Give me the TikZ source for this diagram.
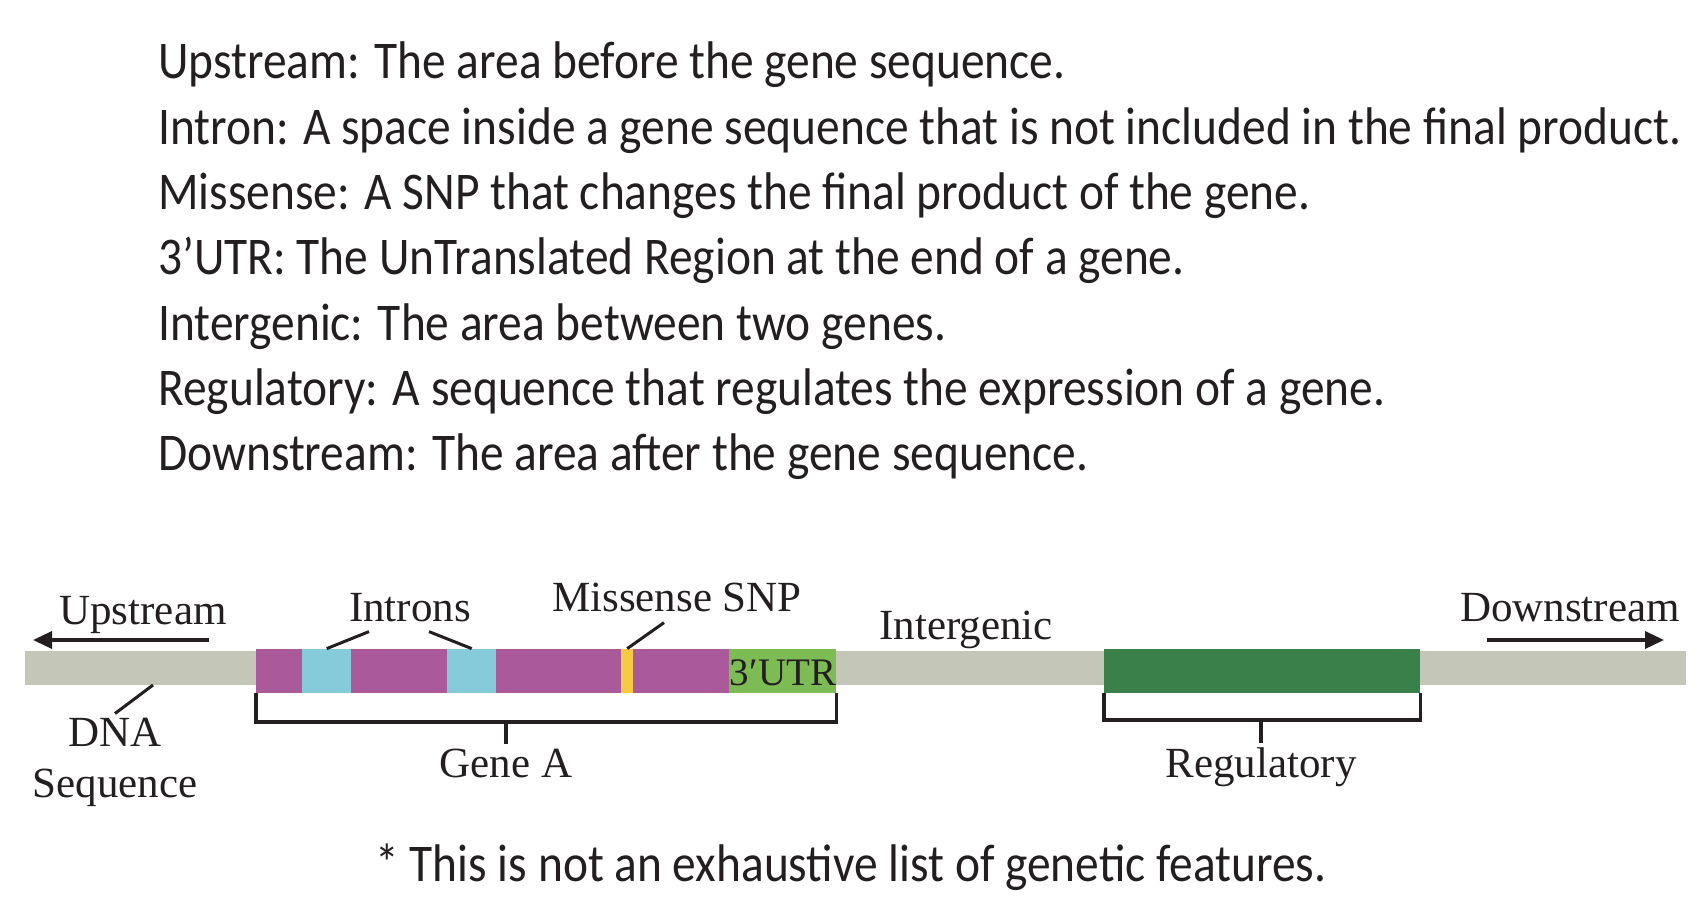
\documentclass[tikz,border=0pt]{standalone}
\usepackage{fontspec}
\setmainfont{Liberation Serif}
\newfontfamily\deffont[FakeStretch=0.895]{Carlito}
\usetikzlibrary{arrows.meta,positioning,calc}
\definecolor{dnagray}{HTML}{C4C6B8}
\definecolor{genepurple}{HTML}{AA5A9A}
\definecolor{introncyan}{HTML}{85CBDA}
\definecolor{snpyellow}{HTML}{F5CB45}
\definecolor{utrgreen}{HTML}{7DBB55}
\definecolor{reggreen}{HTML}{3A804A}
\definecolor{inkblack}{HTML}{231F20}
\tikzset{
  dnabar/.style={fill=dnagray, inner sep=0pt, minimum height=34pt, anchor=north west},
  seg/.style={inner sep=0pt, minimum height=44pt, anchor=south west},
  lbl/.style={font=\fontsize{43}{51}\selectfont, text=inkblack, inner sep=0pt},
  deftext/.style={font=\deffont\fontsize{53}{65}\selectfont, text=inkblack, inner sep=0pt, anchor=base west},
  leader/.style={line width=3pt, draw=inkblack},
  bracket/.style={line width=3.5pt, draw=inkblack},
  strandarrow/.style={-{Triangle[length=19pt,width=17pt]}, line width=3.5pt, draw=inkblack}
}
\begin{document}
\begin{tikzpicture}[x=1pt,y=-1pt]
  \useasboundingbox (0,0) rectangle (1702,912);
  % definitions
  \foreach \t [count=\i] in {Upstream: The area before the gene sequence.,
      Intron: A space inside a gene sequence that is not included in the final product.,
      Missense: A SNP that changes the final product of the gene.,
      3’UTR: The UnTranslated Region at the end of a gene.,
      Intergenic: The area between two genes.,
      Regulatory: A sequence that regulates the expression of a gene.,
      Downstream: The area after the gene sequence.}
    \node[deftext] (def\i) at (158,{79+65.3*(\i-1)}) {\t};
  % DNA strand
  \node[dnabar, minimum width=1661pt] (dna) at (25,651) {};
  \foreach \a/\b/\c/\n in {256/302/genepurple/ex1, 302/351/introncyan/in1,
      351/447/genepurple/ex2, 447/496/introncyan/in2, 496/621/genepurple/ex3,
      621/633/snpyellow/snp, 633/729/genepurple/ex4, 729/836/utrgreen/utr}
    \node[seg, fill=\c, minimum width={(\b-\a)*1pt}] (\n) at (\a,693) {};
  \node[seg, fill=reggreen, minimum width=316pt] (reg) at (1104,693) {};
  \node[lbl, font=\fontsize{39}{45}\selectfont, anchor=base] (utrlbl) at (783,685) {3′UTR};
  % labels
  \node[lbl, anchor=base] (upstream) at (143,624) {Upstream};
  \node[lbl, anchor=base] (introns) at (410,621) {Introns};
  \node[lbl, anchor=base] (missense) at (677,611) {Missense SNP};
  \node[lbl, anchor=base] (intergenic) at (966,639) {Intergenic};
  \node[lbl, anchor=base] (downstream) at (1570,621) {Downstream};
  \node[lbl, align=center] (dnalbl) at (115,762) {DNA\\Sequence};
  \node[lbl, anchor=base] (geneA) at (506,777) {Gene A};
  \node[lbl, anchor=base] (regulatory) at (1261,777) {Regulatory};
  % direction arrows
  \coordinate (upfrom) at (209,640);
  \coordinate (upto) at (33,640);
  \coordinate (downfrom) at (1487,640);
  \coordinate (downto) at (1664,640);
  \draw[strandarrow] (upfrom) -- (upto);
  \draw[strandarrow] (downfrom) -- (downto);
  % leaders
  \coordinate (dnapt) at (153,685);
  \draw[leader] (dnapt) -- ([yshift=4pt]dnalbl.north);
  \draw[leader] (in1.north) -- ([xshift=-41pt,yshift=-10pt]introns.south);
  \draw[leader] (in2.north) -- ([xshift=19pt,yshift=-10pt]introns.south);
  \draw[leader] (snp.north) -- ([xshift=-13pt,yshift=-11pt]missense.south);
  % brackets
  \draw[bracket] (ex1.south west) -- ++(0,29) coordinate (gbl) -| (utr.south east);
  \draw[bracket] (gbl -| geneA.north) -- ([yshift=4pt]geneA.north);
  \draw[bracket] (reg.south west) -- ++(0,27) coordinate (rbl) -| (reg.south east);
  \draw[bracket] (rbl -| regulatory.north) -- ([yshift=4pt]regulatory.north);
  % note
  \node[deftext, anchor=base] (note) at (851,881) {* This is not an exhaustive list of genetic features.};
\end{tikzpicture}
\end{document}
